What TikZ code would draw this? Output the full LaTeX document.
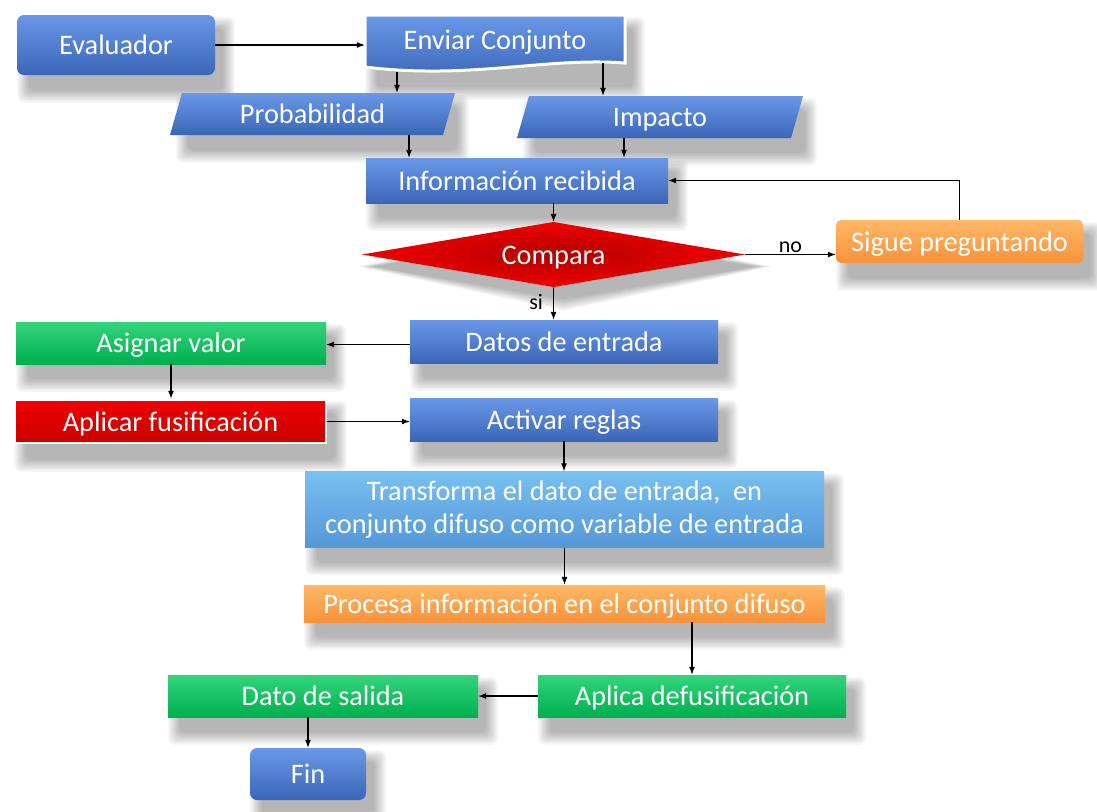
\documentclass[tikz,border=0pt]{standalone}
\usepackage{fontspec}
\setmainfont{Carlito}
\usetikzlibrary{arrows.meta,calc}
\pgfdeclarelayer{bg}
\pgfsetlayers{bg,main}
\definecolor{bmain}{HTML}{4472C4}
\definecolor{btop}{HTML}{6A98E8}
\definecolor{bbot}{HTML}{3A66B8}
\definecolor{lbmain}{HTML}{5597D8}
\definecolor{lbtop}{HTML}{78C0F0}
\definecolor{omain}{HTML}{F7923A}
\definecolor{otop}{HTML}{FFB866}
\definecolor{gmain}{HTML}{00B050}
\definecolor{gtop}{HTML}{33D47A}
\definecolor{rmain}{HTML}{F20000}
\definecolor{rdark}{HTML}{B00000}
\definecolor{rbot}{HTML}{C80000}
\tikzset{
  txtbase/.style={text=white, font=\fontsize{28.3}{33}\selectfont, inner sep=0pt},
  boxtxt/.style={txtbase, text height=22pt, text depth=3pt},
  bluebox/.style={boxtxt, top color=btop, middle color=bmain, bottom color=bbot},
  orangebox/.style={boxtxt, top color=otop, middle color=omain, bottom color=omain},
  greenbox/.style={boxtxt, top color=gtop, middle color=gmain, bottom color=gmain},
  redbox/.style={boxtxt, top color=rmain, middle color=rmain, bottom color=rbot, draw=white, line width=2.5pt},
  plain/.style={boxtxt, draw=none, fill=none},
  shadowpiece/.style={fill=black, opacity=0.03},
  arr/.style={-{Latex[length=8pt,width=6pt]}, line width=1.1pt, black},
  lbl/.style={font=\fontsize{22}{24}\selectfont, text=black, inner sep=1pt}
}
\newcommand\softshadow[1]{%
  \foreach \k in {0,...,9}{%
    \fill[shadowpiece, rounded corners=6pt]
      ($(#1.north west)+(12-\k*1.3, 14-\k*1.3)$) rectangle ($(#1.south east)+(8+\k*1.3, 15+\k*1.4)$);
  }}
\begin{document}
\begin{tikzpicture}[x=1pt,y=-1pt]
\useasboundingbox (0,0) rectangle (1097,811);

% Evaluador
\node[bluebox, rounded corners=7pt, minimum width=198pt, minimum height=60pt] (ev) at (116,45) {Evaluador};

% Enviar Conjunto (document shape)
\path[draw=white, line width=3pt, top color=btop, middle color=bmain, bottom color=bbot]
  (365,15) -- (625,15) -- (625,63) .. controls (545,57) and (470,80) .. (365,67) -- cycle;
\node[plain, minimum width=260pt, minimum height=57pt] (env) at (495,43.5) {};
\node[boxtxt] at (495,40) {Enviar Conjunto};

% Probabilidad
\path[top color=btop, middle color=bmain, bottom color=bbot]
  (170,135) -- (182,93) -- (455,93) -- (443,135) -- cycle;
\node[plain, minimum width=273pt, minimum height=42pt] (prob) at (312.5,114) {Probabilidad};

% Impacto
\path[top color=btop, middle color=bmain, bottom color=bbot]
  (517,138) -- (529,96) -- (803,96) -- (791,138) -- cycle;
\node[plain, minimum width=274pt, minimum height=42pt] (imp) at (660,117) {Impacto};

% Informacion recibida
\node[bluebox, minimum width=302pt, minimum height=45pt] (info) at (517,180.5) {Información recibida};

% Compara
\path[inner color=rdark, outer color=rmain]
  (362,254.5) -- (553.5,222) -- (745,254.5) -- (553.5,287) -- cycle;
\node[plain, minimum width=383pt, minimum height=65pt] (comp) at (553.5,254.5) {Compara};

% Sigue preguntando
\node[orangebox, rounded corners=5pt, minimum width=247pt, minimum height=43pt] (sigue) at (959.5,241.5) {Sigue preguntando};

% Datos de entrada
\node[bluebox, minimum width=308pt, minimum height=43pt] (datos) at (564,341.5) {Datos de entrada};

% Asignar valor
\node[greenbox, minimum width=310pt, minimum height=42pt] (asig) at (171,343) {Asignar valor};

% Aplicar fusificacion
\node[redbox, minimum width=311pt, minimum height=43pt] (apl) at (170.5,421.5) {Aplicar fusificación};

% Activar reglas
\node[bluebox, minimum width=308pt, minimum height=43pt] (act) at (564,419.5) {Activar reglas};

% Transforma
\node[txtbase, align=center, top color=lbtop, middle color=lbmain, bottom color=lbmain, minimum width=519pt, minimum height=76pt] (trans) at (564.5,509.5) {Transforma el dato de entrada,~ en\\conjunto difuso como variable de entrada};

% Procesa
\node[orangebox, minimum width=521pt, minimum height=37pt] (proc) at (564.5,603.5) {Procesa información en el conjunto difuso};

% Dato de salida
\node[greenbox, minimum width=310pt, minimum height=42pt] (dsal) at (323,696) {Dato de salida};

% Aplica defusificacion
\node[greenbox, minimum width=308pt, minimum height=42pt] (adef) at (692,696) {Aplica defusificación};

% Fin
\node[bluebox, rounded corners=7pt, minimum width=116pt, minimum height=52pt] (fin) at (308,774) {Fin};

% White page and soft shadows behind the shapes
\begin{pgfonlayer}{bg}
  \fill[white] (0,0) rectangle (1097,811);
  \begin{scope}
  \clip (0,0) rectangle (1097,811);
  \foreach \n in {ev,env,prob,imp,info,sigue,datos,asig,apl,act,trans,proc,dsal,adef,fin}{\softshadow{\n}}
  \foreach \k in {0,...,9}{%
    \fill[shadowpiece]
      ($(comp.west)+(12-\k*1.8, 12)$) -- ($(comp.north)+(10, 14-\k*1.2)$) --
      ($(comp.east)+(10+\k*1.8, 12)$) -- ($(comp.south)+(10, 12+\k*1.3)$) -- cycle;
  }
  \end{scope}
\end{pgfonlayer}

% Connectors
\draw[arr] (ev.east) -- (ev.east -| env.west);
\draw[arr] ([xshift=-98pt]env.south) -- ([xshift=-98pt]env.south |- prob.north);
\draw[arr] ([xshift=108pt,yshift=9pt]env.south) -- ([xshift=108pt]env.south |- imp.north);
\draw[arr] ([xshift=96.5pt]prob.south) -- ([xshift=96.5pt]prob.south |- info.north);
\draw[arr] ([xshift=-36pt]imp.south) -- ([xshift=-36pt]imp.south |- info.north);
\draw[arr] (info.south -| comp.north) -- (comp.north);
\draw[arr] (comp.east) -- node[lbl, above, pos=0.5] {no} (comp.east -| sigue.west);
\draw[arr] (sigue.north) |- (info.east);
\draw[arr] (comp.south) -- node[lbl, left=9pt, pos=0.45] {si} (comp.south |- datos.north);
\draw[arr] ([yshift=-3pt]datos.west) -- ([yshift=-3pt]datos.west -| asig.east);
\draw[arr] (asig.south) -- (asig.south |- apl.north);
\draw[arr] (apl.east) -- (apl.east -| act.west);
\draw[arr] (act.south) -- (act.south |- trans.north);
\draw[arr] (trans.south) -- (proc.north);
\draw[arr] (adef.north |- proc.south) -- (adef.north);
\draw[arr] (adef.west) -- (dsal.east);
\draw[arr] (fin.north |- dsal.south) -- (fin.north);
\end{tikzpicture}
\end{document}
